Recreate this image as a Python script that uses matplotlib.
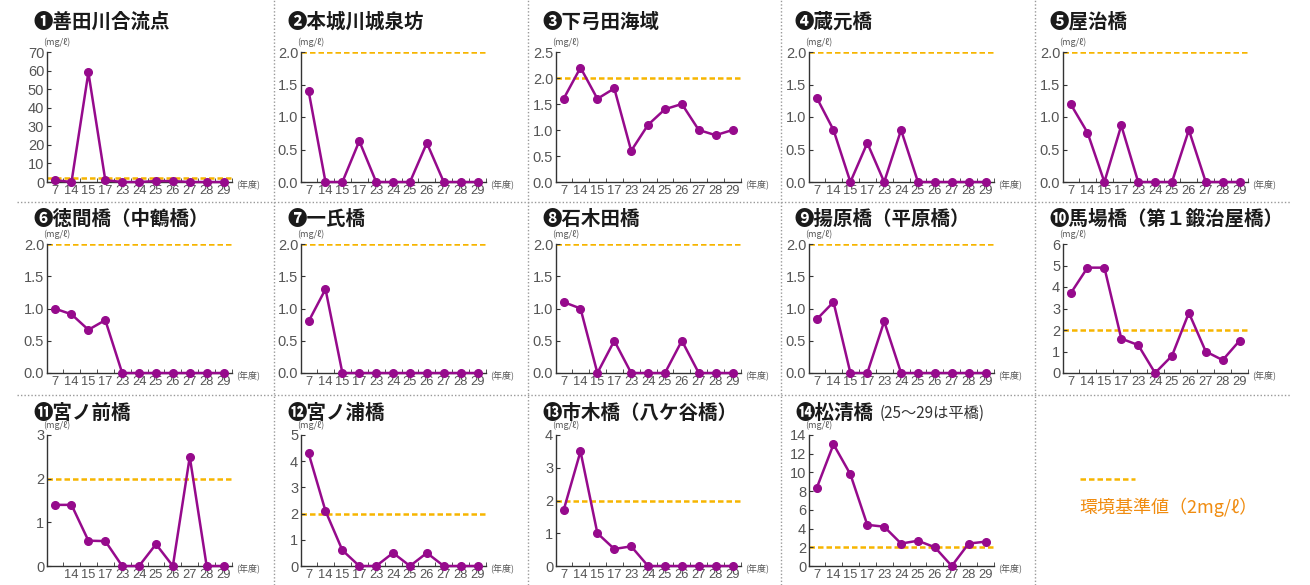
import matplotlib.pyplot as plt
from matplotlib.lines import Line2D

W, H = 1310, 585
plt.rcParams['font.family'] = ['Liberation Sans Narrow', 'Liberation Sans', 'DejaVu Sans']
CJK = ['Noto Sans CJK JP', 'DejaVu Sans']

PURPLE = '#960a8c'
ORANGE = '#f7b500'
GREY = '#555555'

# ---- data ----
years = ["7", "14", "15", "17", "23", "24", "25", "26", "27", "28", "29"]
nums = ["❶", "❷", "❸", "❹", "❺", "❻", "❼", "❽", "❾", "❿", "⓫", "⓬", "⓭", "⓮"]
names = ["善田川合流点", "本城川城泉坊", "下弓田海域", "蔵元橋", "屋治橋",
         "徳間橋（中鶴橋）", "一氏橋", "石木田橋", "揚原橋（平原橋）", "馬場橋（第１鍛治屋橋）",
         "宮ノ前橋", "宮ノ浦橋", "市木橋（八ケ谷橋）", "松清橋"]
note14 = "(25～29は平橋)"

s1 = [1.0, 0.0, 59.0, 1.0, 0.0, 0.0, 0.5, 0.5, 0.0, 0.0, 0.0]
s2 = [1.4, 0.0, 0.0, 0.63, 0.0, 0.0, 0.0, 0.6, 0.0, 0.0, 0.0]
s3 = [1.6, 2.2, 1.6, 1.8, 0.6, 1.1, 1.4, 1.5, 1.0, 0.9, 1.0]
s4 = [1.3, 0.8, 0.0, 0.6, 0.0, 0.8, 0.0, 0.0, 0.0, 0.0, 0.0]
s5 = [1.2, 0.76, 0.0, 0.87, 0.0, 0.0, 0.0, 0.8, 0.0, 0.0, 0.0]
s6 = [1.0, 0.91, 0.67, 0.82, 0.0, 0.0, 0.0, 0.0, 0.0, 0.0, 0.0]
s7 = [0.8, 1.3, 0.0, 0.0, 0.0, 0.0, 0.0, 0.0, 0.0, 0.0, 0.0]
s8 = [1.1, 1.0, 0.0, 0.5, 0.0, 0.0, 0.0, 0.5, 0.0, 0.0, 0.0]
s9 = [0.83, 1.1, 0.0, 0.0, 0.8, 0.0, 0.0, 0.0, 0.0, 0.0, 0.0]
s10 = [3.7, 4.9, 4.9, 1.6, 1.3, 0.0, 0.8, 2.8, 1.0, 0.6, 1.5]
s11 = [1.4, 1.4, 0.58, 0.57, 0.0, 0.0, 0.5, 0.0, 2.5, 0.0, 0.0]
s12 = [4.3, 2.1, 0.6, 0.0, 0.0, 0.5, 0.0, 0.5, 0.0, 0.0, 0.0]
s13 = [1.7, 3.5, 1.0, 0.52, 0.6, 0.0, 0.0, 0.0, 0.0, 0.0, 0.0]
s14 = [8.3, 13.0, 9.8, 4.4, 4.2, 2.4, 2.7, 2.0, 0.0, 2.4, 2.6]
series = [s1, s2, s3, s4, s5, s6, s7, s8, s9, s10, s11, s12, s13, s14]

ymaxs = [70, 2.0, 2.5, 2.0, 2.0, 2.0, 2.0, 2.0, 2.0, 6, 3, 5, 4, 14]
ysteps = [10, 0.5, 0.5, 0.5, 0.5, 0.5, 0.5, 0.5, 0.5, 1, 1, 1, 1, 2]
standard = 2.0
legend_label = "環境基準値（2mg/ℓ）"

# ---- layout (pixels) ----
col_left = [47, 301, 556, 809, 1063]
ax_w = 185
row_top = [52, 244, 435]
row_bot = [182, 373, 566]
title_y = [22, 219, 413]

fig = plt.figure(figsize=(W / 100, H / 100), dpi=100)
fig.patch.set_facecolor('white')


def fx(px):
    return px / W


def fy(py):
    return 1 - py / H


for i, vals in enumerate(series):
    r, c = divmod(i, 5)
    x0 = col_left[c]
    ax = fig.add_axes([fx(x0), fy(row_bot[r]), ax_w / W, (row_bot[r] - row_top[r]) / H])
    xs = list(range(len(years)))
    ax.axhline(standard, color=ORANGE, lw=1.8, dashes=(2.2, 1.2), zorder=1)
    ax.plot(xs, vals, color=PURPLE, lw=1.8, marker='o', ms=5.5, zorder=3, clip_on=False)
    ax.set_xlim(-0.45, 10.5)
    ax.set_ylim(0, ymaxs[i])
    n = int(round(ymaxs[i] / ysteps[i]))
    yt = [k * ysteps[i] for k in range(n + 1)]
    ax.set_yticks(yt)
    if ysteps[i] < 1:
        ax.set_yticklabels([f"{v:.1f}" for v in yt])
    else:
        ax.set_yticklabels([f"{int(v)}" for v in yt])
    ax.set_xticks(xs)
    lbls = list(years)
    if i == 10:
        lbls[0] = ""
    ax.set_xticklabels(lbls)
    ax.set_xticks([k + 0.5 for k in range(len(years))], minor=True)
    ax.tick_params(axis='x', which='major', length=0, pad=2, labelsize=9.3, labelcolor=GREY)
    ax.tick_params(axis='x', which='minor', direction='in', length=3, color='#333333')
    ax.tick_params(axis='y', direction='in', length=3, pad=2, labelsize=10.5,
                   labelcolor=GREY, color='#333333')
    for s in ['top', 'right']:
        ax.spines[s].set_visible(False)
    for s in ['left', 'bottom']:
        ax.spines[s].set_color('#333333')
        ax.spines[s].set_linewidth(1.0)
    ax.patch.set_alpha(0)
    ax.annotate("(mg/ℓ)", xy=(0, 1), xycoords='axes fraction', xytext=(-3, 7),
                textcoords='offset points', fontsize=6.5, color=GREY, family=CJK,
                ha='left', va='center')
    ax.annotate("(年度)", xy=(1, 0), xycoords='axes fraction', xytext=(3, -2),
                textcoords='offset points', fontsize=6.5, color=GREY, family=CJK,
                ha='left', va='center')
    fig.text(fx(x0 - 14), fy(title_y[r]), nums[i] + names[i], fontsize=14,
             fontweight='bold', family=CJK, color='#1a1a1a', va='center', ha='left')

fig.text(fx(880), fy(title_y[2]), note14, fontsize=11, family=CJK, color='#333333',
         va='center', ha='left')

# legend cell
fig.add_artist(Line2D([fx(1080), fx(1135)], [fy(479), fy(479)], color=ORANGE, lw=1.8,
                      dashes=(2.2, 1.2)))
fig.text(fx(1079), fy(507), legend_label, fontsize=13, family=CJK, color='#f08c10',
         va='center', ha='left')

# dotted separators
for vx in [274, 528, 781, 1035]:
    fig.add_artist(Line2D([fx(vx), fx(vx)], [0, 1], color='#999999', lw=1, ls=(0, (1, 1.5))))
for hy in [202, 395]:
    fig.add_artist(Line2D([fx(17), fx(1290)], [fy(hy), fy(hy)], color='#999999', lw=1,
                          ls=(0, (1, 1.5))))

fig.savefig("out.png", dpi=100)
